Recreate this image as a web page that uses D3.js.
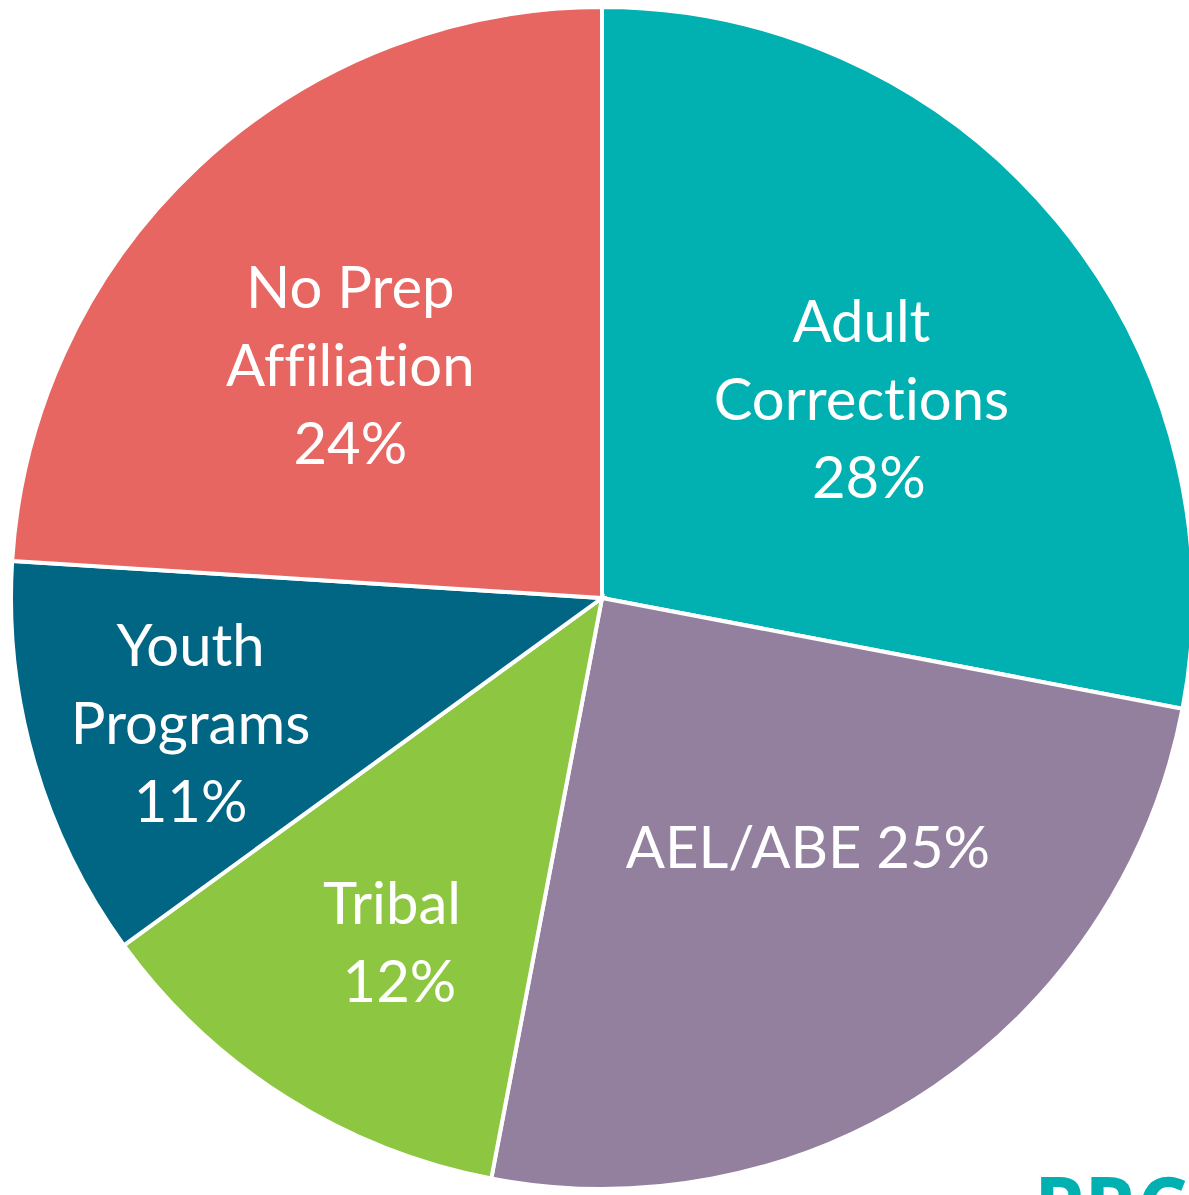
<!DOCTYPE html>
<html>
<head>
<meta charset="utf-8">
<script src="https://cdn.jsdelivr.net/npm/d3@7"></script>
<style>
  html, body { margin: 0; padding: 0; background: #fff; overflow: hidden; }
  svg { display: block; }
  text { white-space: pre; font-variant-ligatures: none; }
</style>
</head>
<body>
<div id="chart"></div>
<script>
// data
const categories = ["Adult Corrections", "AEL/ABE", "Tribal", "Youth Programs", "No Prep Affiliation"];
const shares = [28, 25, 12, 11, 24];
const labelLines = [["Adult", "Corrections", " 28%"], ["AEL/ABE 25%"], ["Tribal", " 12%"], ["Youth", "Programs", "11%"], ["No Prep", "Affiliation", "24%"]];
const colors = ["#01b0b0", "#93809e", "#8dc640", "#006684", "#e86661"];

const width = 1189,
  height = 1195;

const cx = 602, cy = 598, radius = 591;

// label placement (radius, angle nudge in degrees), PowerPoint best-fit style
const labelLayout = {
  "Adult Corrections": [327, 2.1],
  "AEL/ABE": [323, -5.4],
  "Tribal": [403, -1.0],
  "Youth Programs": [430, -0.7],
  "No Prep Affiliation": [343, -4.0]
};

const color = d3.scaleOrdinal(categories, colors);

const pie = d3.pie()
  .sort(null)
  .value(d => d.value);

const data = categories.map((c, i) => ({ name: c, value: shares[i], lines: labelLines[i] }));
const arcs = pie(data);

const arc = d3.arc()
  .innerRadius(0)
  .outerRadius(radius);

const svg = d3.select("#chart")
  .append("svg")
  .attr("width", width)
  .attr("height", height)
  .attr("viewBox", [0, 0, width, height]);

const g = svg.append("g")
  .attr("transform", `translate(${cx},${cy})`);

// slices
g.append("g")
  .selectAll("path")
  .data(arcs)
  .join("path")
  .attr("d", arc)
  .attr("fill", d => color(d.data.name))
  .attr("stroke", "#fff")
  .attr("stroke-width", 4)
  .attr("stroke-linejoin", "miter");

// labels
const fontSize = 58,
  lineHeight = 78;

const labels = g.append("g")
  .attr("font-family", "Lato, 'Open Sans', sans-serif")
  .attr("font-size", fontSize)
  .attr("fill", "#fff")
  .attr("text-anchor", "middle")
  .selectAll("text")
  .data(arcs)
  .join("text")
  .attr("transform", d => {
    const [r, nudge] = labelLayout[d.data.name];
    const a = (d.startAngle + d.endAngle) / 2 + nudge * Math.PI / 180;
    const [x, y] = d3.pointRadial(a, r);
    return `translate(${x},${y})`;
  });

labels.selectAll("tspan")
  .data(d => d.data.lines.map((t, i, arr) => ({ t, i, n: arr.length })))
  .join("tspan")
  .attr("x", 0)
  .attr("y", d => (d.i - (d.n - 1) / 2) * lineHeight + 21)
  .text(d => d.t);

// partial logo peeking in at the bottom right corner
svg.append("text")
  .attr("x", 1034)
  .attr("y", 1235)
  .attr("font-family", "'Open Sans', sans-serif")
  .attr("font-weight", 700)
  .attr("font-size", 80)
  .attr("fill", "#01b0b0")
  .text("PRC");
</script>
</body>
</html>
